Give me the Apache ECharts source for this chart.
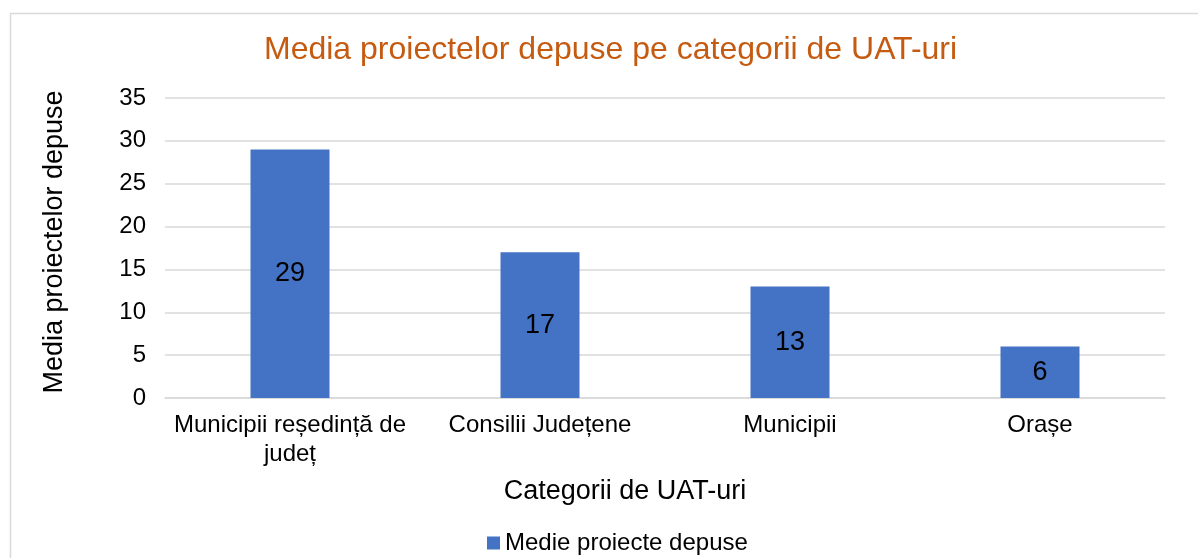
<!DOCTYPE html>
<html>
<head>
<meta charset="utf-8">
<script src="https://cdn.jsdelivr.net/npm/echarts@6/dist/echarts.min.js"></script>
<style>html,body{margin:0;padding:0;background:#fff}#c{width:1198px;height:558px}</style>
</head>
<body>
<div id="c"></div>
<script>
const titleText = 'Media proiectelor depuse pe categorii de UAT-uri';
const categories = ['Municipii reședință de județ', 'Consilii Județene', 'Municipii', 'Orașe'];
const seriesName = 'Medie proiecte depuse';
const values = [29, 17, 13, 6];
const xAxisTitle = 'Categorii de UAT-uri';
const yAxisTitle = 'Media proiectelor depuse';

const FONT = 'Liberation Sans, Arial, sans-serif';

function wrapLabel(s, maxChars) {
  const words = s.split(' ');
  const lines = [];
  let cur = '';
  words.forEach(w => {
    const next = cur ? cur + ' ' + w : w;
    if (next.length > maxChars && cur) { lines.push(cur); cur = w; }
    else cur = next;
  });
  if (cur) lines.push(cur);
  return lines.join('\n');
}

const chart = echarts.init(document.getElementById('c'));
chart.setOption({
  animation: false,
  textStyle: { fontFamily: FONT },
  graphic: [{
    type: 'rect', left: 8, top: 11, silent: true,
    shape: { width: 1300, height: 700 },
    style: { fill: 'none', stroke: '#D9D9D9', lineWidth: 1.5 }
  }],
  title: {
    text: titleText, left: 259, top: 29,
    textStyle: { color: '#C55A11', fontSize: 32, fontWeight: 'normal', fontFamily: FONT }
  },
  legend: {
    top: 531, left: 487, itemWidth: 13, itemHeight: 13, itemGap: 10,
    icon: 'rect', padding: 0,
    textStyle: { color: '#000', fontSize: 24, fontFamily: FONT },
    data: [seriesName]
  },
  grid: { left: 165, right: 33, top: 98, bottom: 160 },
  xAxis: {
    type: 'category', data: categories,
    name: xAxisTitle, nameLocation: 'middle', nameGap: 80,
    nameTextStyle: { color: '#000', fontSize: 27, fontFamily: FONT, padding: [0, 80, 0, 0] },
    axisLine: { lineStyle: { color: '#D9D9D9', width: 1.5 } },
    axisTick: { show: false },
    axisLabel: {
      color: '#000', fontSize: 24, margin: 13, interval: 0, lineHeight: 29, fontFamily: FONT,
      formatter: v => wrapLabel(v, 22)
    }
  },
  yAxis: {
    type: 'value', min: 0, max: 35, interval: 5,
    name: yAxisTitle, nameLocation: 'middle', nameGap: 97,
    nameTextStyle: { color: '#000', fontSize: 27, fontFamily: FONT, padding: [0, 0, 0, 12] },
    axisLine: { show: false }, axisTick: { show: false },
    axisLabel: { color: '#000', fontSize: 24, margin: 19, fontFamily: FONT },
    splitLine: { lineStyle: { color: '#D9D9D9', width: 1.5 } }
  },
  series: [{
    name: seriesName, type: 'bar', data: values, barWidth: '31.6%',
    itemStyle: { color: '#4472C4' },
    label: { show: true, position: 'inside', color: '#000', fontSize: 27, fontFamily: FONT }
  }]
});
</script>
</body>
</html>
